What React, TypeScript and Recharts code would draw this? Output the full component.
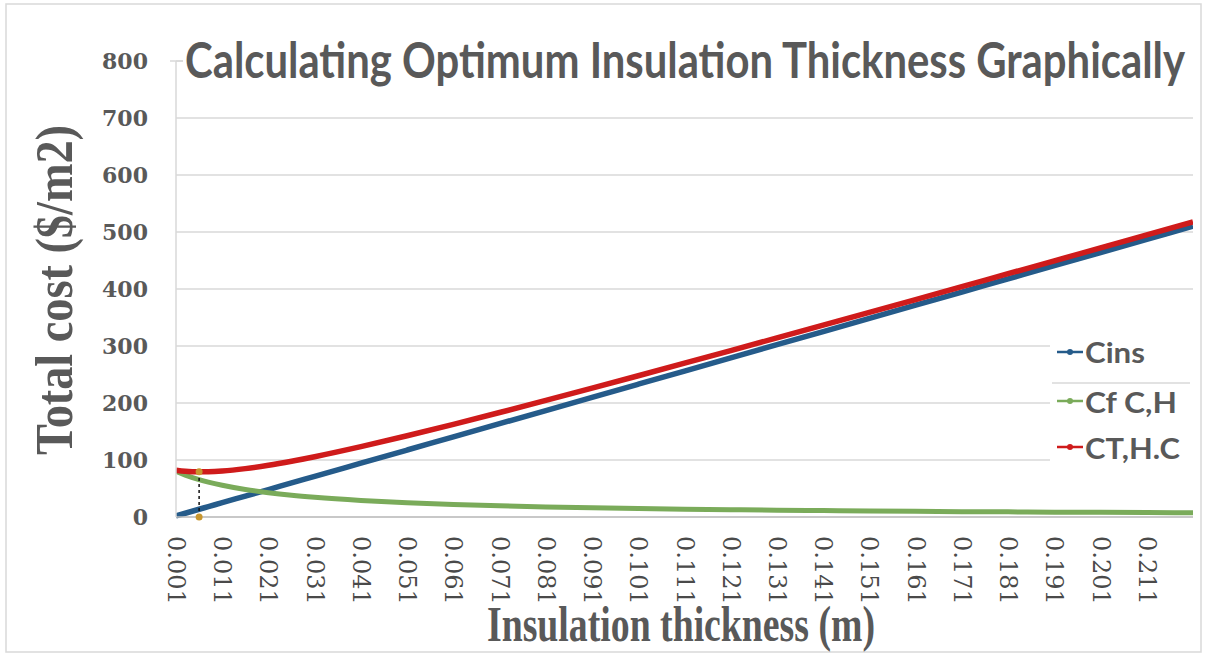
import React from "react";
import {
  LineChart,
  Line,
  XAxis,
  YAxis,
  CartesianGrid,
  ReferenceLine,
  ReferenceDot,
} from "recharts";

// Insulation thickness (m)
const thickness = [
  0.001, 0.003, 0.006, 0.008, 0.011, 0.016, 0.021, 0.026, 0.031, 0.041, 0.051,
  0.061, 0.071, 0.081, 0.091, 0.101, 0.111, 0.121, 0.131, 0.141, 0.151, 0.161,
  0.171, 0.181, 0.191, 0.201, 0.211, 0.221,
];
// Insulation cost
const cins = [
  2, 6.6, 13.6, 18.2, 25.1, 36.7, 48.2, 59.8, 71.3, 94.4, 117.5, 140.6, 163.7,
  186.8, 209.9, 233, 256.1, 279.2, 302.3, 325.4, 348.5, 371.6, 394.7, 417.8,
  440.9, 464, 487.1, 510.2,
];
// Fuel cost (cooling, heating)
const cfCH = [
  80, 73.5, 65.6, 61.2, 55.6, 48.2, 42.6, 38.1, 34.5, 29.0, 25.0, 22.0, 19.6,
  17.7, 16.1, 14.8, 13.7, 12.7, 11.9, 11.2, 10.5, 9.9, 9.4, 9.0, 8.5, 8.2, 7.8,
  7.5,
];
// Total cost
const ctHC = [
  82, 80.1, 79.2, 79.4, 80.7, 84.9, 90.8, 97.9, 105.8, 123.4, 142.5, 162.6,
  183.3, 204.5, 226, 247.8, 269.8, 291.9, 314.2, 336.6, 359, 381.5, 404.1,
  426.8, 449.4, 472.2, 494.9, 517.7,
];

const xTicks = [
  0.001, 0.011, 0.021, 0.031, 0.041, 0.051, 0.061, 0.071, 0.081, 0.091, 0.101,
  0.111, 0.121, 0.131, 0.141, 0.151, 0.161, 0.171, 0.181, 0.191, 0.201, 0.211,
];
const yTicks = [0, 100, 200, 300, 400, 500, 600, 700, 800];

const optimumX = 0.006;
const optimumY = 79.2;

const seriesNames = ["Cins", "Cf C,H", "CT,H.C"];
const titleText = "Calculating Optimum Insulation Thickness Graphically";
const yTitle = "Total cost ($/m2)";
const xTitle = "Insulation thickness (m)";

const data = thickness.map((t, i) => ({
  t,
  cins: cins[i],
  cf: cfCH[i],
  ct: ctHC[i],
}));

const BLUE = "#255b8a";
const GREEN = "#7aab5a";
const RED = "#cf1b1b";
const TEXT = "#595959";

const XTick = (props: any) => {
  const { x, y, payload } = props;
  return (
    <text
      x={x}
      y={y}
      transform={`rotate(90, ${x}, ${y})`}
      textAnchor="start"
      dominantBaseline="central"
      fontFamily="DejaVu Serif"
      fontSize={24}
      fill="#4a4a4a"
    >
      {Number(payload.value).toFixed(3)}
    </text>
  );
};

export default function App() {
  const legendItems = [
    { name: seriesNames[0], color: BLUE, y: 352, base: 363, len: 60 },
    { name: seriesNames[1], color: GREEN, y: 401, base: 413, len: 92 },
    { name: seriesNames[2], color: RED, y: 447, base: 459, len: 95 },
  ];
  return (
    <div
      style={{
        position: "absolute",
        left: 0,
        top: 0,
        width: 1206,
        height: 654,
        background: "#ffffff",
      }}
    >
      <LineChart
        width={1206}
        height={654}
        data={data}
        margin={{ top: 61, right: 13, bottom: 0, left: 0 }}
      >
        <CartesianGrid vertical={false} stroke="#d9d9d9" strokeWidth={1.5} />
        <XAxis
          dataKey="t"
          type="number"
          domain={[0.001, 0.221]}
          ticks={xTicks}
          allowDataOverflow
          height={137}
          tickSize={0}
          tickMargin={19}
          tick={<XTick />}
          axisLine={{ stroke: "#bfbfbf", strokeWidth: 1.5 }}
          tickLine={false}
        />
        <YAxis
          type="number"
          domain={[0, 800]}
          ticks={yTicks}
          width={176}
          tickSize={0}
          tickMargin={28}
          tickLine={false}
          axisLine={{ stroke: "#d9d9d9", strokeWidth: 1.5 }}
          tick={{
            fontFamily: "DejaVu Serif",
            fontWeight: "bold",
            fontSize: 22,
            fill: TEXT,
          }}
        />
        <Line
          type="monotone"
          dataKey="cins"
          stroke={BLUE}
          strokeWidth={5.5}
          dot={false}
          isAnimationActive={false}
        />
        <Line
          type="monotone"
          dataKey="cf"
          stroke={GREEN}
          strokeWidth={5}
          dot={false}
          isAnimationActive={false}
        />
        <Line
          type="monotone"
          dataKey="ct"
          stroke={RED}
          strokeWidth={5.5}
          dot={false}
          isAnimationActive={false}
        />
        <ReferenceLine
          segment={[
            { x: optimumX, y: 0 },
            { x: optimumX, y: optimumY },
          ]}
          stroke="#111111"
          strokeWidth={1.5}
          strokeDasharray="3 3"
        />
        <ReferenceDot x={optimumX} y={0} r={3.5} fill="#c8962e" stroke="none" />
        <ReferenceDot
          x={optimumX}
          y={optimumY}
          r={3.5}
          fill="#c8962e"
          stroke="none"
        />
      </LineChart>
      <svg
        width={1206}
        height={654}
        style={{ position: "absolute", left: 0, top: 0, pointerEvents: "none" }}
      >
        <rect
          x={6}
          y={4}
          width={1195}
          height={648}
          fill="none"
          stroke="#d9d9d9"
          strokeWidth={1.5}
        />
        <rect x={183} y={30} width={1014} height={60} fill="#ffffff" />
        <line x1={170} y1={61} x2={183} y2={61} stroke="#d9d9d9" strokeWidth={1.5} />
        <g transform="translate(185, 78) scale(1, 1.4)">
          <text
            x={0}
            y={0}
            textLength={1000}
            lengthAdjust="spacingAndGlyphs"
            fontFamily="Lato"
            fontWeight="bold"
            fontSize={35}
            fill={TEXT}
          >
            {titleText}
          </text>
        </g>
        <text
          transform="translate(72, 290) rotate(-90)"
          x={0}
          y={0}
          textAnchor="middle"
          textLength={330}
          lengthAdjust="spacingAndGlyphs"
          fontFamily="Liberation Serif"
          fontWeight="bold"
          fontSize={52}
          fill={TEXT}
        >
          {yTitle}
        </text>
        <text
          x={681}
          y={641}
          textAnchor="middle"
          textLength={388}
          lengthAdjust="spacingAndGlyphs"
          fontFamily="Liberation Serif"
          fontWeight="bold"
          fontSize={50}
          fill={TEXT}
        >
          {xTitle}
        </text>
        <rect x={1050} y={330} width={145} height={140} fill="#ffffff" />
        <line x1={1052} y1={383} x2={1190} y2={383} stroke="#d9d9d9" strokeWidth={1.5} />
        {legendItems.map((it) => (
          <g key={it.name}>
            <line
              x1={1057}
              y1={it.y}
              x2={1083}
              y2={it.y}
              stroke={it.color}
              strokeWidth={2.5}
            />
            <circle cx={1070} cy={it.y} r={3} fill={it.color} />
            <text
              x={1085}
              y={it.base}
              textLength={it.len}
              lengthAdjust="spacingAndGlyphs"
              fontFamily="Lato"
              fontWeight="bold"
              fontSize={28}
              fill={TEXT}
            >
              {it.name}
            </text>
          </g>
        ))}
      </svg>
    </div>
  );
}
